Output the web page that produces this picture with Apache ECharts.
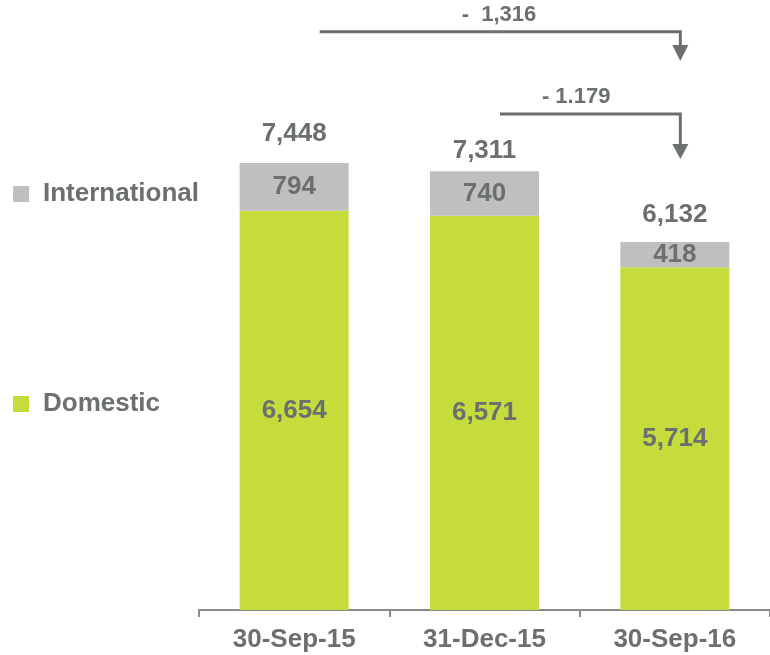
<!DOCTYPE html>
<html>
<head>
<meta charset="utf-8">
<script src="https://cdn.jsdelivr.net/npm/echarts@6/dist/echarts.min.js"></script>
<style>
  html, body { margin: 0; padding: 0; background: #ffffff; }
  #chart { width: 770px; height: 655px; }
</style>
</head>
<body>
<div id="chart"></div>
<script>
// Client balances by period (stacked: domestic + international)
const categories = ['30-Sep-15', '31-Dec-15', '30-Sep-16'];
const domestic = [6654, 6571, 5714];
const international = [794, 740, 418];
const totals = domestic.map((d, i) => d + international[i]);

// Change callouts: from period index -> last period
const changeLabels = ['-  1,316', '- 1.179'];
const changeFrom = [0, 1];
const changeTo = 2;

const TEXT = '#6b6f6f';
const GREEN = '#c5dc3c';
const GREY = '#bfbfbf';
const FONT = '"Liberation Sans", Arial, sans-serif';

// Gap between each total label and its bar top
const totalLabelGap = [16, 8, 14];

const chart = echarts.init(document.getElementById('chart'), null, { renderer: 'canvas' });

const legendText = {
  color: TEXT, fontFamily: FONT, fontWeight: 'bold', fontSize: 26,
  padding: [0, 0, 0, 9]
};

const valueLabel = {
  show: true, color: TEXT, fontFamily: FONT, fontWeight: 'bold', fontSize: 26,
  formatter: p => p.value.toLocaleString('en-US')
};

chart.setOption({
  animation: false,
  backgroundColor: '#ffffff',
  grid: { left: 199, top: 10, width: 573, bottom: 45 },
  legend: [
    {
      data: ['International'], left: 13, top: 181, padding: 0, icon: 'rect',
      itemWidth: 16, itemHeight: 16, textStyle: legendText, selectedMode: false
    },
    {
      data: ['Domestic'], left: 13, top: 391, padding: 0, icon: 'rect',
      itemWidth: 16, itemHeight: 16, textStyle: legendText, selectedMode: false
    }
  ],
  xAxis: {
    type: 'category',
    data: categories,
    axisLine: { lineStyle: { color: '#8a8a8a', width: 2 } },
    axisTick: { show: true, length: 7, lineStyle: { color: '#8a8a8a', width: 2 } },
    axisLabel: {
      color: TEXT, fontFamily: FONT, fontWeight: 'bold', fontSize: 26, margin: 17
    }
  },
  yAxis: {
    type: 'value', min: 0, max: 10000, show: false,
    splitLine: { show: false }
  },
  series: [
    {
      name: 'Domestic', type: 'bar', stack: 'total', barWidth: 109,
      itemStyle: { color: GREEN },
      label: Object.assign({ position: 'inside' }, valueLabel),
      data: domestic
    },
    {
      name: 'International', type: 'bar', stack: 'total', barWidth: 109,
      itemStyle: { color: GREY },
      label: Object.assign({ position: 'inside' }, valueLabel),
      data: international
    },
    {
      name: 'Total', type: 'scatter', symbolSize: 0, silent: true,
      itemStyle: { color: 'transparent', opacity: 1 },
      label: Object.assign({ position: 'top' }, valueLabel),
      data: totals.map((v, i) => ({
        value: v,
        label: Object.assign({ position: 'top', distance: totalLabelGap[i] }, valueLabel)
      }))
    }
  ]
});

// Change callout arrows, positioned through the chart's own scales
function drawCallouts() {
  const xPix = i => chart.convertToPixel({ xAxisIndex: 0 }, i);
  const yPix = v => chart.convertToPixel({ yAxisIndex: 0 }, v);
  const startOffset = [25.5, 15.5];
  const endX = xPix(changeTo) + 5.5;
  const levels = [9638, 8267];    // horizontal run height (value units)
  const headTop = [9417, 7767];
  const tip = [9150, 7517];
  const textShift = [-1, -14];
  const elements = [];
  changeFrom.forEach((from, k) => {
    const x0 = xPix(from) + startOffset[k];
    const y0 = yPix(levels[k]);
    const yh = yPix(headTop[k]);
    const yt = yPix(tip[k]);
    elements.push({
      type: 'polyline',
      shape: { points: [[x0, y0], [endX, y0], [endX, yh]] },
      style: { stroke: TEXT, lineWidth: 3, fill: null }
    });
    elements.push({
      type: 'polygon',
      shape: { points: [[endX - 8, yh], [endX + 8, yh], [endX, yt]] },
      style: { fill: TEXT }
    });
    elements.push({
      type: 'text',
      x: (x0 + endX) / 2 + textShift[k],
      y: y0 - 17,
      style: {
        text: changeLabels[k], fill: TEXT, font: 'bold 22px ' + FONT,
        align: 'center', verticalAlign: 'middle'
      }
    });
  });
  chart.setOption({ graphic: elements });
}
drawCallouts();
</script>
</body>
</html>
